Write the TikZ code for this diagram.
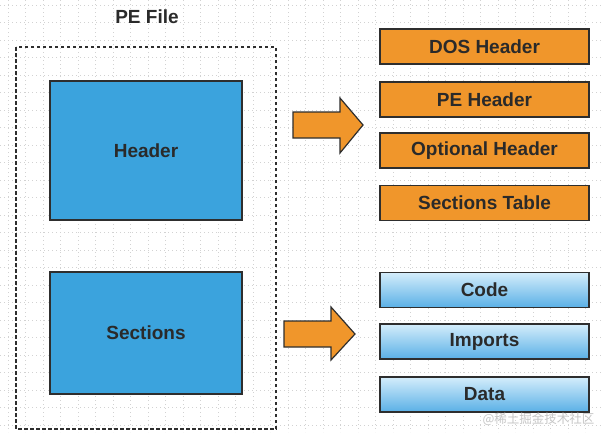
\documentclass[tikz,border=0pt]{standalone}
\usepackage{fontspec}
\setmainfont{Liberation Sans}
\newfontfamily\cjkfont{Noto Sans CJK SC}
\definecolor{txt}{HTML}{2A2A2A}
\definecolor{edge}{HTML}{2E2E2E}
\definecolor{hdrblue}{HTML}{3BA3DD}
\definecolor{orng}{HTML}{F0962B}
\definecolor{ltop}{HTML}{D4EDFB}
\definecolor{lbot}{HTML}{5AB0E6}
\begin{document}
\begin{tikzpicture}[x=1pt,y=-1pt,
  lbl/.style={font=\fontsize{19}{22}\selectfont\bfseries, text=txt},
  bigbox/.style={draw=edge, line width=1.3pt, fill=hdrblue, minimum width=192pt, minimum height=#1, lbl},
  obox/.style={draw=edge, line width=1.3pt, fill=orng, minimum width=209pt, minimum height=35pt, lbl},
  lbox/.style={draw=edge, line width=1.3pt, top color=ltop, bottom color=lbot, minimum width=209pt, minimum height=35pt, lbl},
  fatarrow/.style={draw=edge, line width=1.2pt, fill=orng, line join=miter}
]
\useasboundingbox (0,0) rectangle (603,432);
\fill[white] (0,0) rectangle (603,432);
% background dotted grid
\foreach \i in {0,...,34} {
  \draw[gray!35, line width=0.6pt, dash pattern=on 0.8pt off 3.2pt] (\i*17.5+8,0) -- (\i*17.5+8,432);
}
\foreach \j in {0,...,24} {
  \draw[gray!35, line width=0.6pt, dash pattern=on 0.8pt off 3.2pt] (0,\j*17.5+5) -- (603,\j*17.5+5);
}
% PE file container
\node[lbl] (title) at (147,17) {PE File};
\draw[edge, line width=1.5pt, dash pattern=on 3.5pt off 2.5pt] (16,47) rectangle (276,429);
\node[bigbox=139pt] (header) at (146,150.5) {Header};
\node[bigbox=122pt] (sections) at (146,333) {Sections};
% right column
\node[obox] (dos) at (484.5,46.5) {DOS Header};
\node[obox] (pe) at (484.5,99.5) {PE Header};
\node[obox] (opt) at (484.5,150.5) {Optional Header};
\node[obox] (sect) at (484.5,203) {Sections Table};
\node[lbox] (code) at (484.5,290) {Code};
\node[lbox] (imports) at (484.5,341.5) {Imports};
\node[lbox] (data) at (484.5,394.5) {Data};
% arrows
\draw[fatarrow] (293,112) -- (340,112) -- (340,98) -- (363,125) -- (340,153) -- (340,138) -- (293,138) -- cycle;
\draw[fatarrow] (284,321) -- (331,321) -- (331,307) -- (355,334) -- (331,360) -- (331,347) -- (284,347) -- cycle;
% watermark
\node[text=gray!45, font=\cjkfont\fontsize{12.5}{14}\selectfont, anchor=east] (wm) at (598,419) {@稀土掘金技术社区};
\end{tikzpicture}
\end{document}
